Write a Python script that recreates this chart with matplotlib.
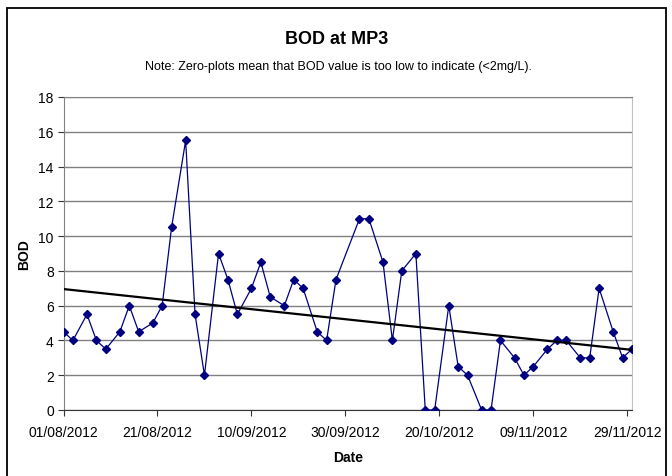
import matplotlib
matplotlib.use("Agg")
import matplotlib.pyplot as plt
import matplotlib.dates as mdates
from matplotlib.patches import Rectangle
import numpy as np
import pandas as pd

plt.rcParams['font.family'] = ['Liberation Sans', 'DejaVu Sans']

# sample dates (Mon/Wed/Fri) and BOD readings
dates = ["01/08/2012", "03/08/2012", "06/08/2012", "08/08/2012", "10/08/2012",
         "13/08/2012", "15/08/2012", "17/08/2012", "20/08/2012", "22/08/2012",
         "24/08/2012", "27/08/2012", "29/08/2012", "31/08/2012", "03/09/2012",
         "05/09/2012", "07/09/2012", "10/09/2012", "12/09/2012", "14/09/2012",
         "17/09/2012", "19/09/2012", "21/09/2012", "24/09/2012", "26/09/2012",
         "28/09/2012", "03/10/2012", "05/10/2012", "08/10/2012", "10/10/2012",
         "12/10/2012", "15/10/2012", "17/10/2012", "19/10/2012", "22/10/2012",
         "24/10/2012", "26/10/2012", "29/10/2012", "31/10/2012", "02/11/2012",
         "05/11/2012", "07/11/2012", "09/11/2012", "12/11/2012", "14/11/2012",
         "16/11/2012", "19/11/2012", "21/11/2012", "23/11/2012", "26/11/2012",
         "28/11/2012", "30/11/2012"]
bod = [4.5, 4, 5.5, 4, 3.5,
       4.5, 6, 4.5, 5, 6,
       10.5, 15.5, 5.5, 2, 9,
       7.5, 5.5, 7, 8.5, 6.5,
       6, 7.5, 7, 4.5, 4,
       7.5, 11, 11, 8.5, 4,
       8, 9, 0, 0, 6,
       2.5, 2, 0, 0, 4,
       3, 2, 2.5, 3.5, 4,
       4, 3, 3, 7, 4.5,
       3, 3.5]

tick_dates = ["01/08/2012", "21/08/2012", "10/09/2012", "30/09/2012",
              "20/10/2012", "09/11/2012", "29/11/2012"]

x = pd.to_datetime(dates, format="%d/%m/%Y")
xt = pd.to_datetime(tick_dates, format="%d/%m/%Y")
xn = mdates.date2num(x)

fig = plt.figure(figsize=(6.72, 4.77), dpi=100)
ax = fig.add_axes([63.5 / 672, 1 - 411 / 477, (632 - 63.5) / 672, (411 - 98) / 477])

ax.plot(x, bod, color='#000080', lw=0.9, marker='D', markersize=4.2, zorder=3)

# linear trend line
k, b = np.polyfit(xn, bod, 1)
tx = np.array([xn[0], xn[-1]])
ax.plot(mdates.num2date(tx), k * tx + b, color='black', lw=1.6, zorder=4)

ax.set_xlim(x[0], x[-1])
ax.set_ylim(0, 18)
ax.set_yticks(range(0, 19, 2))
ax.set_xticks(xt)
ax.xaxis.set_major_formatter(mdates.DateFormatter('%d/%m/%Y'))
ax.yaxis.grid(True, color='#808080', lw=1.0)
ax.set_axisbelow(True)

for s in ['left', 'top']:
    ax.spines[s].set_color('#808080')
ax.spines['bottom'].set_color('#333333')
ax.spines['right'].set_color('#c0c0c0')
ax.tick_params(axis='both', labelsize=10, direction='out', length=4, color='#333333', pad=3)
ax.tick_params(axis='x', pad=7)

ax.set_xlabel('Date', fontsize=10, fontweight='bold', labelpad=8)
ax.set_ylabel('BOD', fontsize=10, fontweight='bold', labelpad=5)

fig.text(337 / 672, 1 - 39 / 477, 'BOD at MP3', ha='center', va='center',
         fontsize=13, fontweight='bold')
fig.text(338 / 672, 1 - 67 / 477,
         'Note: Zero-plots mean that BOD value is too low to indicate (<2mg/L).',
         ha='center', va='center', fontsize=9)

# outer chart frame
fig.patches.append(Rectangle((7 / 672, -0.1), (666 - 7) / 672, 1.1 - 9 / 477,
                             transform=fig.transFigure, fill=False,
                             edgecolor='black', lw=1.3))

fig.savefig('out.png', dpi=100)
